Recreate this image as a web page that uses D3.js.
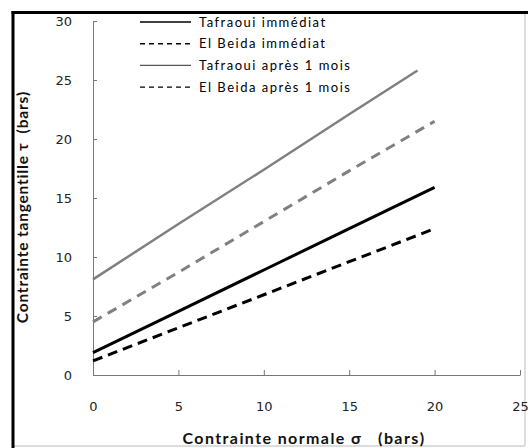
<!DOCTYPE html>
<html>
<head>
<meta charset="utf-8">
<script src="https://cdn.jsdelivr.net/npm/d3@7/dist/d3.min.js"></script>
<style>
  html, body { margin: 0; padding: 0; background: #fff; }
  svg { display: block; }
  text { white-space: pre; }
</style>
</head>
<body>
<div id="main"></div>
<script>
!(function () {
  'use strict';

  // data
  const sigma = [0, 5, 10, 15, 20];
  const sigmaLast = [0, 5, 10, 15, 19];
  const tafraouiImm = [1.9, 5.4, 8.9, 12.4, 15.9];
  const elBeidaImm = [1.2, 4.0, 6.8, 9.6, 12.4];
  const tafraouiMois = [8.1, 12.8, 17.4, 22.1, 25.8];
  const elBeidaMois = [4.5, 8.7, 13.0, 17.3, 21.5];
  const seriesNames = ['Tafraoui immédiat', 'El Beida immédiat', 'Tafraoui après 1 mois', 'El Beida après 1 mois'];
  const xTicks = [0, 5, 10, 15, 20, 25];
  const yTicks = [0, 5, 10, 15, 20, 25, 30];

  const series = [
    { name: seriesNames[0], xs: sigma, ys: tafraouiImm, color: '#000', width: 3, dash: null, lw: 1.5, ldash: null },
    { name: seriesNames[1], xs: sigma, ys: elBeidaImm, color: '#000', width: 3, dash: '10,6', lw: 1.5, ldash: '5,4' },
    { name: seriesNames[2], xs: sigmaLast, ys: tafraouiMois, color: '#808080', width: 2.5, dash: null, lw: 1.2, ldash: null },
    { name: seriesNames[3], xs: sigma, ys: elBeidaMois, color: '#808080', width: 3, dash: '10,7', lw: 1.2, ldash: '5,4' }
  ];

  const width = 528, height = 448;
  const svg = d3.select('#main').append('svg')
    .attr('width', width).attr('height', height);

  // frame
  svg.append('line').attr('x1', 525).attr('y1', 12).attr('x2', 525).attr('y2', 446)
    .attr('stroke', '#bbb').attr('stroke-width', 1);
  svg.append('line').attr('x1', 12).attr('y1', 446).attr('x2', 525).attr('y2', 446)
    .attr('stroke', '#bbb').attr('stroke-width', 1);
  svg.append('line').attr('x1', 13).attr('y1', 11).attr('x2', 13).attr('y2', 448)
    .attr('stroke', '#000').attr('stroke-width', 3);
  svg.append('line').attr('x1', 11.5).attr('y1', 12.5).attr('x2', 528).attr('y2', 12.5)
    .attr('stroke', '#000').attr('stroke-width', 3);

  const xScale = d3.scaleLinear().domain([0, 25]).range([93, 520]);
  const yScale = d3.scaleLinear().domain([0, 30]).range([375, 21]);

  const font = 'DejaVu Sans, Verdana, sans-serif';

  // x axis
  const gx = svg.append('g')
    .attr('transform', 'translate(0,' + yScale(0) + ')')
    .call(d3.axisBottom(xScale).tickValues(xTicks).tickSizeInner(-5).tickSizeOuter(0).tickPadding(27));
  gx.select('.domain').attr('stroke', '#777');
  gx.selectAll('.tick line').attr('stroke', '#777');
  gx.selectAll('.tick text').attr('fill', '#222').style('font-family', font).style('font-size', '13px');

  // y axis
  const gy = svg.append('g')
    .attr('transform', 'translate(' + xScale(0) + ',0)')
    .call(d3.axisLeft(yScale).tickValues(yTicks).tickSizeInner(-4).tickSizeOuter(0).tickPadding(21));
  gy.select('.domain').attr('stroke', '#777');
  gy.selectAll('.tick line').attr('stroke', '#777');
  gy.selectAll('.tick text').attr('fill', '#222').style('font-family', font).style('font-size', '13px');

  // lines
  const line = d3.line()
    .x(function (d) { return xScale(d[0]); })
    .y(function (d) { return yScale(d[1]); });

  series.forEach(function (s) {
    svg.append('path')
      .datum(s.xs.map(function (x, i) { return [x, s.ys[i]]; }))
      .attr('d', line)
      .attr('fill', 'none')
      .attr('stroke', s.color)
      .attr('stroke-width', s.width)
      .attr('stroke-dasharray', s.dash);
  });

  // legend
  const lg = svg.append('g');
  series.forEach(function (s, i) {
    const y = 22 + i * 21.7;
    lg.append('line')
      .attr('x1', 140).attr('x2', 191).attr('y1', y).attr('y2', y)
      .attr('stroke', i === 2 ? '#555' : '#000')
      .attr('stroke-width', s.lw)
      .attr('stroke-dasharray', s.ldash);
    lg.append('text')
      .attr('x', 199).attr('y', y + 4.5)
      .style('font-family', 'Lato, sans-serif')
      .style('font-size', '13px')
      .style('letter-spacing', '1.5px')
      .attr('fill', '#000')
      .text(s.name);
  });

  // axis titles
  svg.append('text')
    .attr('x', 304).attr('y', 444)
    .attr('text-anchor', 'middle')
    .style('font-family', 'Lato, sans-serif')
    .style('font-size', '16px')
    .style('font-weight', 'bold')
    .style('letter-spacing', '1.4px')
    .attr('fill', '#111')
    .text('Contrainte normale σ   (bars)');

  svg.append('text')
    .attr('transform', 'translate(28,207) rotate(-90)')
    .attr('text-anchor', 'middle')
    .style('font-family', 'Lato, sans-serif')
    .style('font-size', '15.5px')
    .style('font-weight', 'bold')
    .style('letter-spacing', '0.8px')
    .attr('fill', '#111')
    .text('Contrainte tangentille τ  (bars)');
}());
</script>
</body>
</html>
